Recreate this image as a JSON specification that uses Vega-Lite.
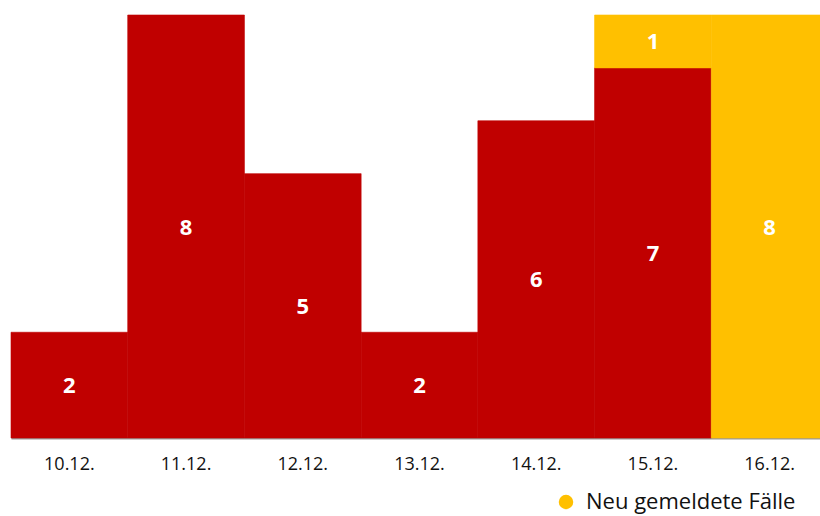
{
  "$schema": "https://vega.github.io/schema/vega-lite/v6.json",
  "width": 817,
  "height": 423,
  "autosize": "none",
  "padding": {"left": 11, "top": 15, "right": 0, "bottom": 78},
  "config": {"view": {"stroke": null}, "font": "Open Sans"},
  "data": {"values": [
    {"date": "10.12.", "series": "Bisher gemeldete Fälle", "value": 2},
    {"date": "11.12.", "series": "Bisher gemeldete Fälle", "value": 8},
    {"date": "12.12.", "series": "Bisher gemeldete Fälle", "value": 5},
    {"date": "13.12.", "series": "Bisher gemeldete Fälle", "value": 2},
    {"date": "14.12.", "series": "Bisher gemeldete Fälle", "value": 6},
    {"date": "15.12.", "series": "Bisher gemeldete Fälle", "value": 7},
    {"date": "15.12.", "series": "Neu gemeldete Fälle", "value": 1},
    {"date": "16.12.", "series": "Neu gemeldete Fälle", "value": 8}
  ]},
  "transform": [
    {"stack": "value", "groupby": ["date"], "sort": [{"field": "series", "order": "ascending"}], "as": ["y0", "y1"]},
    {"calculate": "(datum.y0 + datum.y1) / 2", "as": "mid"}
  ],
  "encoding": {
    "x": {
      "field": "date", "type": "nominal", "sort": null,
      "scale": {"paddingInner": 0, "paddingOuter": 0},
      "axis": {
        "title": null, "labelAngle": 0, "ticks": false,
        "domainColor": "#999999", "domainWidth": 2,
        "labelFontSize": 18, "labelColor": "#111111", "labelPadding": 17
      }
    }
  },
  "layer": [
    {
      "mark": {"type": "bar", "strokeWidth": 0.6},
      "encoding": {
        "y": {"field": "y0", "type": "quantitative", "scale": {"domain": [0, 8], "nice": false}, "axis": null},
        "y2": {"field": "y1"},
        "color": {
          "field": "series", "type": "nominal",
          "scale": {"domain": ["Bisher gemeldete Fälle", "Neu gemeldete Fälle"], "range": ["#C00000", "#FFC000"]},
          "legend": {
            "values": ["Neu gemeldete Fälle"], "title": null, "orient": "none",
            "legendX": 544, "legendY": 476, "symbolType": "circle", "symbolSize": 210,
            "symbolStrokeWidth": 0, "labelFontSize": 22, "labelColor": "#111111", "labelOffset": 9,
            "labelLimit": 400
          }
        },
        "stroke": {
          "field": "series", "type": "nominal",
          "scale": {"domain": ["Bisher gemeldete Fälle", "Neu gemeldete Fälle"], "range": ["#C00000", "#FFC000"]},
          "legend": null
        }
      }
    },
    {
      "mark": {"type": "text", "color": "white", "fontWeight": "bold", "fontSize": 22, "baseline": "middle", "dy": 1},
      "encoding": {
        "y": {"field": "mid", "type": "quantitative"},
        "text": {"field": "value", "type": "quantitative"}
      }
    }
  ]
}
